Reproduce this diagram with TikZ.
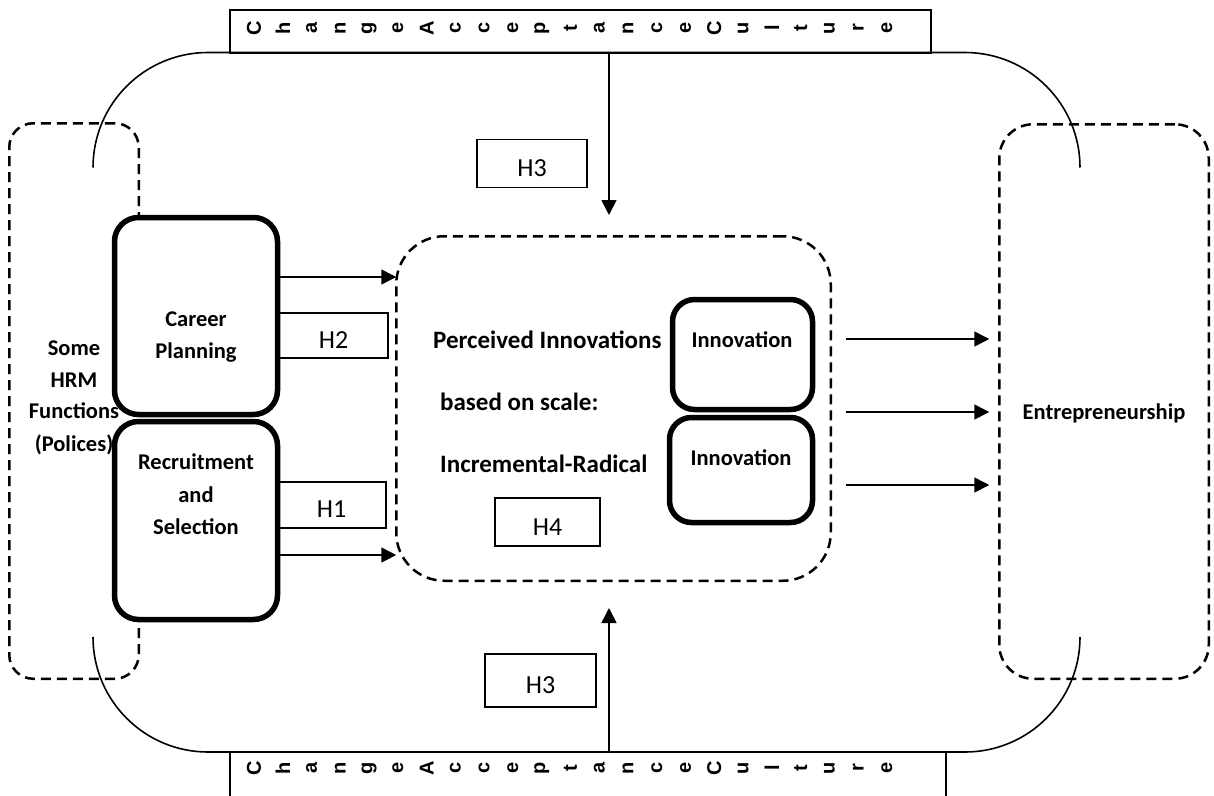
\documentclass[tikz,border=0pt]{standalone}
\usepackage{fontspec}
\setmainfont{Carlito}
\newfontfamily\bandfont{Liberation Sans}
\usetikzlibrary{arrows.meta}

\begin{document}
\begin{tikzpicture}[x=1pt,y=-1pt,
  outline/.style={line width=1.6pt},
  dashbox/.style={draw, line width=2.5pt, dash pattern=on 10pt off 6pt, inner sep=0pt, outer sep=0pt},
  thickbox/.style={draw, fill=white, line width=5.5pt, rounded corners=24pt, inner sep=0pt},
  hypbox/.style={draw, line width=1.6pt, inner sep=0pt},
  hyptext/.style={font=\fontsize{26}{30}\selectfont, anchor=base, inner sep=0pt},
  lbl/.style={font=\fontsize{22.5}{30}\selectfont\bfseries, anchor=base, inner sep=0pt},
  midlbl/.style={font=\fontsize{25}{30}\selectfont\bfseries, anchor=base west, inner sep=0pt},
  band/.style={draw, line width=2pt, inner sep=0pt},
  bandletter/.style={font=\bandfont\bfseries\fontsize{20}{20}\selectfont, rotate=90, inner sep=0pt},
  arr/.style={line width=1.6pt, -{Triangle[length=15pt,width=15pt]}},
]
\fill[white] (0,0) rectangle (1214,795);
\useasboundingbox (0,0) rectangle (1214,795);

% culture bands, top and bottom
\node[band, minimum width=701pt, minimum height=42.5pt] (bandTop) at (580.5,31.25) {};
\node[band, minimum width=716pt, minimum height=56pt] (bandBot) at (588,780) {};
\foreach \ch [count=\i from 0] in {C,h,a,n,g,e,A,c,c,e,p,t,a,n,c,e,C,u,l,t,u,r,e} {
  \node[bandletter] (ltop\i) at (254+28.77*\i,28) {\ch};
  \node[bandletter] (lbot\i) at (254+28.77*\i,768) {\ch};
}

% outer culture frame (corners and long edges only)
\draw[outline] (93,167.5) arc[start angle=180,end angle=270,radius=115]
  -- (965,52.5) arc[start angle=270,end angle=360,radius=115];
\draw[outline] (93,637) arc[start angle=180,end angle=90,radius=115]
  -- (965,752) arc[start angle=90,end angle=0,radius=115];

% HRM functions
\node[dashbox, rounded corners=24pt, minimum width=129.5pt, minimum height=555.5pt] (hrm) at (74,401) {};
\node[lbl] (hrm1) at (74,355) {Some};
\node[lbl] (hrm2) at (74,387) {HRM};
\node[lbl] (hrm3) at (74,418) {Functions};
\node[lbl] (hrm4) at (74,451) {(Polices)};

\node[thickbox, minimum width=163pt, minimum height=197pt] (career) at (196,316) {};
\node[lbl] (career1) at (196,326) {Career};
\node[lbl] (career2) at (196,358) {Planning};

\node[thickbox, minimum width=163pt, minimum height=198pt] (recruit) at (196,520.5) {};
\node[lbl] (recruit1) at (196,469) {Recruitment};
\node[lbl] (recruit2) at (196,502) {and};
\node[lbl] (recruit3) at (196,534) {Selection};

% perceived innovations
\node[dashbox, rounded corners=48pt, minimum width=434.5pt, minimum height=344.5pt] (mid) at (613.5,408.5) {};
\node[midlbl] (mid1) at (433,348) {Perceived Innovations};
\node[midlbl] (mid2) at (440,410) {based on scale:};
\node[midlbl] (mid3) at (440,472) {Incremental-Radical};

\node[thickbox, rounded corners=22pt, minimum width=140pt, minimum height=110pt] (inno1) at (742.5,354.5) {};
\node[lbl] (inno1t) at (742,347) {Innovation};
\node[thickbox, rounded corners=22pt, minimum width=143pt, minimum height=105pt] (inno2) at (741,470) {};
\node[lbl] (inno2t) at (741,465) {Innovation};

% entrepreneurship
\node[dashbox, rounded corners=34pt, minimum width=209.5pt, minimum height=554.5pt] (entre) at (1104,401.5) {};
\node[lbl] (entret) at (1104,419) {Entrepreneurship};

% hypotheses
\node[hypbox, minimum width=109pt, minimum height=45pt] (h2) at (333.5,335.5) {};
\node[hyptext] (h2t) at (333.5,348) {H2};
\node[hypbox, minimum width=109pt, minimum height=46pt] (h1) at (331.5,505) {};
\node[hyptext] (h1t) at (331.5,517) {H1};
\node[hypbox, minimum width=105pt, minimum height=48pt] (h4) at (547.5,522) {};
\node[hyptext] (h4t) at (547.5,535) {H4};
\node[hypbox, minimum width=110pt, minimum height=48pt] (h3a) at (532,163.5) {};
\node[hyptext] (h3at) at (532,176) {H3};
\node[hypbox, minimum width=111pt, minimum height=53pt] (h3b) at (540.5,680.5) {};
\node[hyptext] (h3bt) at (540.5,693) {H3};

% connectors
\coordinate (tipTop) at (609,215);
\coordinate (tipBot) at (609,608);
\draw[arr] (bandTop.south -| tipTop) -- (tipTop);
\draw[arr] (bandBot.north -| tipBot) -- (tipBot);
\draw[arr] (career.east |- 0,277) -- (mid.west |- 0,277);
\draw[arr] (recruit.east |- 0,555) -- (mid.west |- 0,555);
\foreach \yy in {339,412,485} {
  \draw[arr] ([xshift=15pt]mid.east |- 0,\yy) -- ([xshift=-10pt]entre.west |- 0,\yy);
}
\end{tikzpicture}
\end{document}
